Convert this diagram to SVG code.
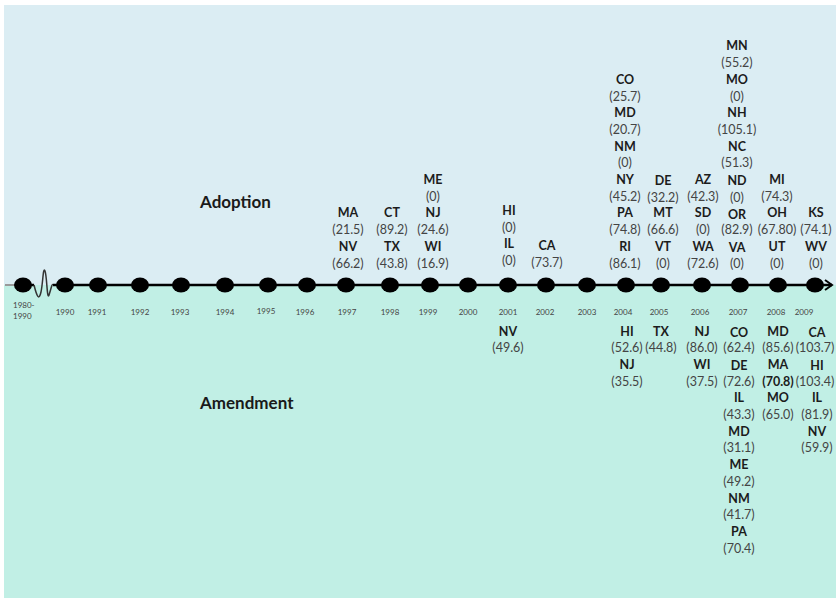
<svg xmlns="http://www.w3.org/2000/svg" width="836" height="600" viewBox="0 0 836 600">
<defs>
<style>
.s{font-family:Lato,"Liberation Sans",sans-serif;font-size:12.5px;font-weight:bold;fill:#1c1c1c;text-anchor:middle}
.v{font-family:Lato,"Liberation Sans",sans-serif;font-size:12.5px;fill:#444;text-anchor:middle}
.vb{font-family:Lato,"Liberation Sans",sans-serif;font-size:12.5px;font-weight:bold;fill:#1c1c1c;text-anchor:middle}
.y{font-family:Lato,"Liberation Sans",sans-serif;font-size:8px;fill:#444;text-anchor:middle}
.h{font-family:Lato,"Liberation Sans",sans-serif;font-size:17px;font-weight:bold;fill:#1a1a1a}
.d{fill:#000}
</style>
<marker id="arr" markerWidth="10" markerHeight="12" refX="8" refY="6" orient="auto" markerUnits="userSpaceOnUse">
<path d="M1,1 L8,6 L1,11" fill="none" stroke="#000" stroke-width="2"/>
</marker>
</defs>
<rect x="0" y="0" width="836" height="600" fill="#fff"/>
<rect x="4" y="5" width="832" height="280" fill="#dbedf3"/>
<rect x="4" y="285" width="832" height="313" fill="#c1efe5"/>
<text class="h" x="200" y="208">Adoption</text>
<text class="h" x="200" y="409">Amendment</text>
<g id="connectors">
<line x1="5" y1="285" x2="23" y2="285" stroke="#999" stroke-width="2"/>
<line x1="23" y1="285" x2="34" y2="285" stroke="#000" stroke-width="2.5"/>
<path d="M34,285 C37,297 39,301 41,292 S43,266 45,271 S47,301 49,295 S52,283 53,285" fill="none" stroke="#333" stroke-width="1.5"/>
<line x1="53" y1="285" x2="832" y2="285" stroke="#000" stroke-width="2.5" marker-end="url(#arr)"/>
</g>
<g id="y1980"><ellipse class="d" cx="23" cy="285" rx="9" ry="7.5"/><text class="y" x="13" y="308" style="text-anchor:start">1980-</text><text class="y" x="13" y="319" style="text-anchor:start">1990</text></g>
<g id="y1990"><ellipse class="d" cx="65" cy="285" rx="9" ry="7.5"/><text class="y" x="65" y="314.5">1990</text></g>
<g id="y1991"><ellipse class="d" cx="98" cy="285" rx="9" ry="7.5"/><text class="y" x="97" y="314.5">1991</text></g>
<g id="y1992"><ellipse class="d" cx="140" cy="285" rx="9" ry="7.5"/><text class="y" x="140" y="314.5">1992</text></g>
<g id="y1993"><ellipse class="d" cx="181" cy="285" rx="9" ry="7.5"/><text class="y" x="180" y="314.5">1993</text></g>
<g id="y1994"><ellipse class="d" cx="225" cy="285" rx="9" ry="7.5"/><text class="y" x="225" y="314.5">1994</text></g>
<g id="y1995"><ellipse class="d" cx="268" cy="285" rx="9" ry="7.5"/><text class="y" x="266" y="313.5">1995</text></g>
<g id="y1996"><ellipse class="d" cx="307" cy="285" rx="9" ry="7.5"/><text class="y" x="305" y="314.5">1996</text></g>
<g id="y1997"><ellipse class="d" cx="346" cy="285" rx="9" ry="7.5"/><text class="y" x="347" y="314.5">1997</text>
<text class="s" x="348" y="217.4">MA</text><text class="v" x="348" y="234.1">(21.5)</text><text class="s" x="348" y="250.8">NV</text><text class="v" x="348" y="267.5">(66.2)</text></g>
<g id="y1998"><ellipse class="d" cx="390" cy="285" rx="9" ry="7.5"/><text class="y" x="390" y="314.5">1998</text>
<text class="s" x="392" y="217.4">CT</text><text class="v" x="392" y="234.1">(89.2)</text><text class="s" x="392" y="250.8">TX</text><text class="v" x="392" y="267.5">(43.8)</text></g>
<g id="y1999"><ellipse class="d" cx="430" cy="285" rx="9" ry="7.5"/><text class="y" x="428" y="314.5">1999</text>
<text class="s" x="433" y="184">ME</text><text class="v" x="433" y="200.7">(0)</text><text class="s" x="433" y="217.4">NJ</text><text class="v" x="433" y="234.1">(24.6)</text><text class="s" x="433" y="250.8">WI</text><text class="v" x="433" y="267.5">(16.9)</text></g>
<g id="y2000"><ellipse class="d" cx="468" cy="285" rx="9" ry="7.5"/><text class="y" x="468" y="314.5">2000</text></g>
<g id="y2001"><ellipse class="d" cx="508" cy="285" rx="9" ry="7.5"/><text class="y" x="508" y="314.5">2001</text>
<text class="s" x="509" y="214.5">HI</text><text class="v" x="509" y="231.5">(0)</text><text class="s" x="509" y="248">IL</text><text class="v" x="509" y="265">(0)</text>
<text class="s" x="508" y="335.5">NV</text><text class="v" x="508" y="352.2">(49.6)</text></g>
<g id="y2002"><ellipse class="d" cx="546" cy="285" rx="9" ry="7.5"/><text class="y" x="545" y="314.5">2002</text>
<text class="s" x="547" y="249.5">CA</text><text class="v" x="547" y="266.5">(73.7)</text></g>
<g id="y2003"><ellipse class="d" cx="587" cy="285" rx="9" ry="7.5"/><text class="y" x="587" y="314.5">2003</text></g>
<g id="y2004"><ellipse class="d" cx="626" cy="285" rx="9" ry="7.5"/><text class="y" x="623" y="314.5">2004</text>
<text class="s" x="625" y="83.8">CO</text><text class="v" x="625" y="100.5">(25.7)</text><text class="s" x="625" y="117.2">MD</text><text class="v" x="625" y="133.9">(20.7)</text><text class="s" x="625" y="150.6">NM</text><text class="v" x="625" y="167.3">(0)</text><text class="s" x="625" y="184">NY</text><text class="v" x="625" y="200.7">(45.2)</text><text class="s" x="625" y="217.4">PA</text><text class="v" x="625" y="234.1">(74.8)</text><text class="s" x="625" y="250.8">RI</text><text class="v" x="625" y="267.5">(86.1)</text>
<text class="s" x="627" y="335.5">HI</text><text class="v" x="627" y="352.2">(52.6)</text><text class="s" x="627" y="368.9">NJ</text><text class="v" x="627" y="385.6">(35.5)</text></g>
<g id="y2005"><ellipse class="d" cx="661" cy="285" rx="9" ry="7.5"/><text class="y" x="659" y="314.5">2005</text>
<text class="s" x="663" y="185">DE</text><text class="v" x="663" y="201.5">(32.2)</text><text class="s" x="663" y="217.4">MT</text><text class="v" x="663" y="234.1">(66.6)</text><text class="s" x="663" y="250.8">VT</text><text class="v" x="663" y="267.5">(0)</text>
<text class="s" x="661" y="335.5">TX</text><text class="v" x="661" y="352.2">(44.8)</text></g>
<g id="y2006"><ellipse class="d" cx="702" cy="285" rx="9" ry="7.5"/><text class="y" x="700" y="314.5">2006</text>
<text class="s" x="703" y="184">AZ</text><text class="v" x="703" y="200.7">(42.3)</text><text class="s" x="703" y="217.4">SD</text><text class="v" x="703" y="234.1">(0)</text><text class="s" x="703" y="250.8">WA</text><text class="v" x="703" y="267.5">(72.6)</text>
<text class="s" x="702" y="335.5">NJ</text><text class="v" x="702" y="352.2">(86.0)</text><text class="s" x="702" y="368.9">WI</text><text class="v" x="702" y="385.6">(37.5)</text></g>
<g id="y2007"><ellipse class="d" cx="740" cy="285" rx="9" ry="7.5"/><text class="y" x="738" y="314.5">2007</text>
<text class="s" x="737" y="50.4">MN</text><text class="v" x="737" y="67.1">(55.2)</text><text class="s" x="737" y="83.8">MO</text><text class="v" x="737" y="100.5">(0)</text><text class="s" x="737" y="117.2">NH</text><text class="v" x="737" y="133.9">(105.1)</text><text class="s" x="737" y="150.6">NC</text><text class="v" x="737" y="167.3">(51.3)</text><text class="s" x="737" y="185">ND</text><text class="v" x="737" y="202">(0)</text><text class="s" x="737" y="219">OR</text><text class="v" x="737" y="234.1">(82.9)</text><text class="s" x="737" y="251.5">VA</text><text class="v" x="737" y="267.5">(0)</text>
<text class="s" x="739" y="336.5">CO</text><text class="v" x="739" y="352.2">(62.4)</text><text class="s" x="739" y="369.9">DE</text><text class="v" x="739" y="385.6">(72.6)</text><text class="s" x="739" y="402.3">IL</text><text class="v" x="739" y="419">(43.3)</text><text class="s" x="739" y="435.7">MD</text><text class="v" x="739" y="452.4">(31.1)</text><text class="s" x="739" y="469.1">ME</text><text class="v" x="739" y="485.8">(49.2)</text><text class="s" x="739" y="502.5">NM</text><text class="v" x="739" y="519.2">(41.7)</text><text class="s" x="739" y="535.9">PA</text><text class="v" x="739" y="552.6">(70.4)</text></g>
<g id="y2008"><ellipse class="d" cx="778" cy="285" rx="9" ry="7.5"/><text class="y" x="776" y="314.5">2008</text>
<text class="s" x="777" y="184">MI</text><text class="v" x="777" y="200.7">(74.3)</text><text class="s" x="777" y="217.4">OH</text><text class="v" x="777" y="234.1">(67.80)</text><text class="s" x="777" y="250.8">UT</text><text class="v" x="777" y="267.5">(0)</text>
<text class="s" x="778" y="335.5">MD</text><text class="v" x="778" y="352.2">(85.6)</text><text class="s" x="778" y="368.9">MA</text><text class="vb" x="778" y="385.6">(70.8)</text><text class="s" x="778" y="402.3">MO</text><text class="v" x="778" y="419">(65.0)</text></g>
<g id="y2009"><ellipse class="d" cx="815" cy="285" rx="9" ry="7.5"/><text class="y" x="804" y="314.5">2009</text>
<text class="s" x="816" y="217.4">KS</text><text class="v" x="816" y="234.1">(74.1)</text><text class="s" x="816" y="250.8">WV</text><text class="v" x="816" y="267.5">(0)</text>
<text class="s" x="817" y="336.5">CA</text><text class="v" x="815" y="352.2">(103.7)</text><text class="s" x="817" y="369.9">HI</text><text class="v" x="815" y="385.6">(103.4)</text><text class="s" x="817" y="402.3">IL</text><text class="v" x="817" y="419">(81.9)</text><text class="s" x="817" y="435.7">NV</text><text class="v" x="817" y="452.4">(59.9)</text></g>
</svg>
